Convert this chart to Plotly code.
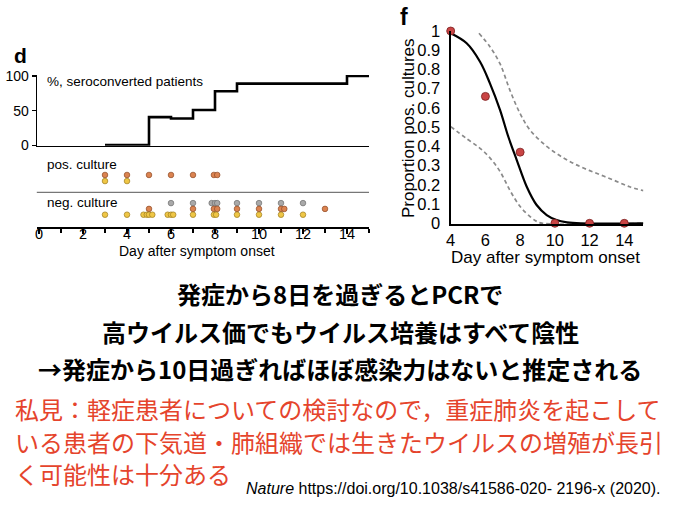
import plotly.graph_objects as go

W, H = 680, 510

# ---------------- data: panel d ----------------
sero_days = [3, 5, 6, 7, 8, 9, 14, 15]
sero_pct = [0.5, 40.6, 38.7, 51, 78, 89, 100, 100]

pos_orange_days = [3, 4, 5, 6, 7, 7.95, 8.1]
pos_yellow_days = [3, 4]
neg_gray_days = [6, 7, 7.85, 8.0, 8.1, 9, 10, 11, 12]
neg_orange_days = [5, 7, 7.95, 8.1, 9, 10, 11, 11.15, 13]
neg_yellow_days = [3, 4, 4.75, 4.9, 5.0, 5.15, 5.85, 6.0, 6.1, 7, 7.95, 8.05, 9, 10, 11, 12]

d_xticks = [0, 2, 4, 6, 8, 10, 12, 14]
d_yticks = [0, 50, 100]

# ---------------- data: panel f ----------------
f_days = [4, 6, 8, 10, 12, 14]
f_prop = [1.0, 0.66, 0.37, 0, 0, 0]

fit_x = [4.0, 4.92, 5.69, 6.26, 6.84, 7.32, 7.8, 8.38, 8.95, 9.53, 10.1, 10.7, 11.5, 15.1]
fit_y = [0.988, 0.936, 0.84, 0.728, 0.59, 0.45, 0.33, 0.19, 0.095, 0.043, 0.017, 0.005, 0.0, 0.0]

upper_x = [5.63, 6.26, 6.84, 7.42, 8.0, 8.57, 9.53, 10.5, 11.45, 12.4, 13.37, 14.3, 15.1]
upper_y = [0.988, 0.918, 0.83, 0.69, 0.57, 0.485, 0.40, 0.34, 0.295, 0.26, 0.225, 0.19, 0.17]

lower_x = [4.0, 4.92, 5.69, 6.26, 6.84, 7.42, 8.0, 8.57, 8.95, 9.3, 15.1]
lower_y = [0.503, 0.44, 0.39, 0.34, 0.27, 0.17, 0.087, 0.035, 0.01, 0.0, 0.0]

f_xticks = [4, 6, 8, 10, 12, 14]
f_yticks = [0, 0.1, 0.2, 0.3, 0.4, 0.5, 0.6, 0.7, 0.8, 0.9, 1]
f_yticktext = ["0", "0.1", "0.2", "0.3", "0.4", "0.5", "0.6", "0.7", "0.8", "0.9", "1"]

# ---------------- text ----------------
title_lines = [
    "発症から8日を過ぎるとPCRで",
    "高ウイルス価でもウイルス培養はすべて陰性",
    "→発症から10日過ぎればほぼ感染力はないと推定される",
]
note_lines = [
    "私見：軽症患者についての検討なので，重症肺炎を起こして",
    "いる患者の下気道・肺組織では生きたウイルスの増殖が長引",
    "く可能性は十分ある",
]
citation = "<i>Nature</i> https://doi.org/10.1038/s41586-020- 2196-x (2020)."

LAT = "Liberation Sans, Arial, Helvetica, sans-serif"
CJK = "Noto Sans CJK JP"


def dom_x(v0, p0, v1, p1, r0, r1):
    s = (p1 - p0) / (v1 - v0)
    return [(p0 + (r0 - v0) * s) / W, (p0 + (r1 - v0) * s) / W]


def dom_y(v0, p0, v1, p1, r0, r1):
    s = (p1 - p0) / (v1 - v0)
    return [1 - (p0 + (r0 - v0) * s) / H, 1 - (p0 + (r1 - v0) * s) / H]


def px(x, y):
    return x / W, 1 - y / H


dx_range = [-0.1, 15]
dx_dom = dom_x(0, 39, 14, 347, *dx_range)
dy1_range = [-0.5, 101.5]
dy1_dom = dom_y(0, 145.3, 100, 76, *dy1_range)
dy2_range = [-2.07, 9.8]
dy2_dom = dom_y(0, 214.7, 1, 208.9, *dy2_range)

fx_range = [4.0, 15.1]
fx_dom = dom_x(4, 450.7, 14, 624.3, *fx_range)
fy_range = [-0.005, 1.0]
fy_dom = dom_y(0, 223.3, 1, 31, *fy_range)

fig = go.Figure()

fig.add_trace(go.Scatter(x=sero_days, y=sero_pct, mode="lines",
                         line=dict(color="black", width=2.6, shape="hv"),
                         xaxis="x", yaxis="y", showlegend=False, hoverinfo="skip"))

ORANGE = dict(color="#DB8350", line=dict(color="#8E4B26", width=0.7))
YELLOW = dict(color="#EFC645", line=dict(color="#9C7B1E", width=0.7))
GRAY = dict(color="#A9A9A9", line=dict(color="#6E6E6E", width=0.7))

rows = [
    (pos_orange_days, 6.85, ORANGE),
    (pos_yellow_days, 5.8, YELLOW),
    (neg_gray_days, 2.0, GRAY),
    (neg_orange_days, 1.0, ORANGE),
    (neg_yellow_days, 0.0, YELLOW),
]
for days, lvl, mk in rows:
    fig.add_trace(go.Scatter(x=days, y=[lvl] * len(days), mode="markers",
                             marker=dict(size=5.6, **mk),
                             xaxis="x2", yaxis="y2", showlegend=False,
                             cliponaxis=False, hoverinfo="skip"))

DASH = dict(color="#8A8A8A", width=1.7, dash="4px,3px")
fig.add_trace(go.Scatter(x=upper_x, y=upper_y, mode="lines", line=dict(shape="spline", **DASH),
                         xaxis="x3", yaxis="y3", showlegend=False, hoverinfo="skip"))
fig.add_trace(go.Scatter(x=lower_x, y=lower_y, mode="lines", line=dict(shape="spline", **DASH),
                         xaxis="x3", yaxis="y3", showlegend=False, hoverinfo="skip"))
fig.add_trace(go.Scatter(x=fit_x, y=fit_y, mode="lines",
                         line=dict(color="black", width=2.2, shape="spline"),
                         xaxis="x3", yaxis="y3", showlegend=False, hoverinfo="skip"))
fig.add_trace(go.Scatter(x=f_days, y=f_prop, mode="markers",
                         marker=dict(size=8, color="#C94444", line=dict(color="#7A2020", width=0.8)),
                         xaxis="x3", yaxis="y3", showlegend=False, cliponaxis=False, hoverinfo="skip"))

ann = []
# panel letters
x, y = px(12, 55)
ann.append(dict(x=x, y=y, text="<b>d</b>", font=dict(family=LAT, size=21, color="black"),
                xanchor="left", yanchor="middle"))
x, y = px(398, 17)
ann.append(dict(x=x, y=y, text="<b>f</b>", font=dict(family=LAT, size=23, color="black"),
                xanchor="left", yanchor="middle"))
# panel d labels
for txt, (xx, yy) in [("%, seroconverted patients", (45, 82)),
                      ("pos. culture", (45, 165)),
                      ("neg. culture", (45, 203))]:
    x, y = px(xx, yy)
    ann.append(dict(x=x, y=y, text=txt, font=dict(family=LAT, size=13.5, color="black"),
                    xanchor="left", yanchor="middle"))
x, y = px(197, 250.5)
ann.append(dict(x=x, y=y, text="Day after symptom onset", font=dict(family=LAT, size=14, color="black"),
                xanchor="center", yanchor="middle"))
# panel f titles
x, y = px(545, 257)
ann.append(dict(x=x, y=y, text="Day after symptom onset", font=dict(family=LAT, size=17, color="black"),
                xanchor="center", yanchor="middle"))
x, y = px(408, 128)
ann.append(dict(x=x, y=y, text="Proportion pos. cultures", textangle=-90,
                font=dict(family=LAT, size=17, color="black"),
                xanchor="center", yanchor="middle"))
# bold black statement
for txt, yy in zip(title_lines, [293, 331, 368]):
    x, y = px(340, yy)
    ann.append(dict(x=x, y=y, text="<b>" + txt + "</b>",
                    font=dict(family=CJK, size=24, color="black", weight=900),
                    xanchor="center", yanchor="middle"))
# red note
for txt, yy in zip(note_lines, [408, 441, 473]):
    x, y = px(13, yy)
    ann.append(dict(x=x, y=y, text=txt, font=dict(family=CJK, size=24, color="#E5442C"),
                    xanchor="left", yanchor="middle"))
x, y = px(244, 488)
ann.append(dict(x=x, y=y, text=citation, font=dict(family=LAT, size=16, color="black"),
                xanchor="left", yanchor="middle"))

for a in ann:
    a.update(xref="paper", yref="paper", showarrow=False)

fig.update_layout(
    width=W, height=H,
    margin=dict(l=0, r=0, t=0, b=0, pad=0, autoexpand=False),
    paper_bgcolor="white", plot_bgcolor="rgba(0,0,0,0)",
    showlegend=False,
    annotations=ann,
    xaxis=dict(domain=dx_dom, range=dx_range, anchor="y", showline=True, linecolor="black",
               linewidth=1.5, showticklabels=False, ticks="", showgrid=False, zeroline=False,
               automargin=False),
    yaxis=dict(domain=dy1_dom, range=dy1_range, anchor="x", showline=True, linecolor="black",
               linewidth=1.2, tickvals=d_yticks, ticks="outside", ticklen=4, tickwidth=1.2,
               tickcolor="black", tickfont=dict(family=LAT, size=14, color="black"),
               showgrid=False, zeroline=False, automargin=False),
    xaxis2=dict(domain=dx_dom, range=dx_range, anchor="y2", showline=True, linecolor="black",
                linewidth=2, tickvals=d_xticks, ticks="outside", ticklen=5, tickwidth=1.6,
                tickcolor="black", tickfont=dict(family=LAT, size=14.5, color="black"),
                ticklabelstandoff=-12,
                minor=dict(dtick=1, tick0=0, ticks="outside", ticklen=4, tickwidth=1.6,
                           tickcolor="black", showgrid=False),
                showgrid=False, zeroline=False, automargin=False),
    yaxis2=dict(domain=dy2_dom, range=dy2_range, anchor="x2", visible=False, automargin=False),
    xaxis3=dict(domain=fx_dom, range=fx_range, anchor="y3", showline=True, linecolor="black",
                linewidth=2.2, tickvals=f_xticks, ticks="", ticklabelstandoff=0,
                tickfont=dict(family=LAT, size=16.5, color="black"),
                showgrid=False, zeroline=False, automargin=False),
    yaxis3=dict(domain=fy_dom, range=fy_range, anchor="x3", showline=True, linecolor="black",
                linewidth=2.2, tickvals=f_yticks, ticktext=f_yticktext, ticks="",
                ticklabelstandoff=5, tickfont=dict(family=LAT, size=16.5, color="black"),
                showgrid=False, zeroline=False, automargin=False),
    shapes=[dict(type="line", xref="x2 domain", x0=0, x1=1, yref="y2", y0=3.85, y1=3.85,
                 line=dict(color="#777777", width=1.3))],
)

fig.write_html("out.html", config={"displayModeBar": False, "staticPlot": True},
               post_script="document.body.style.margin='0';document.body.style.overflow='hidden';")
